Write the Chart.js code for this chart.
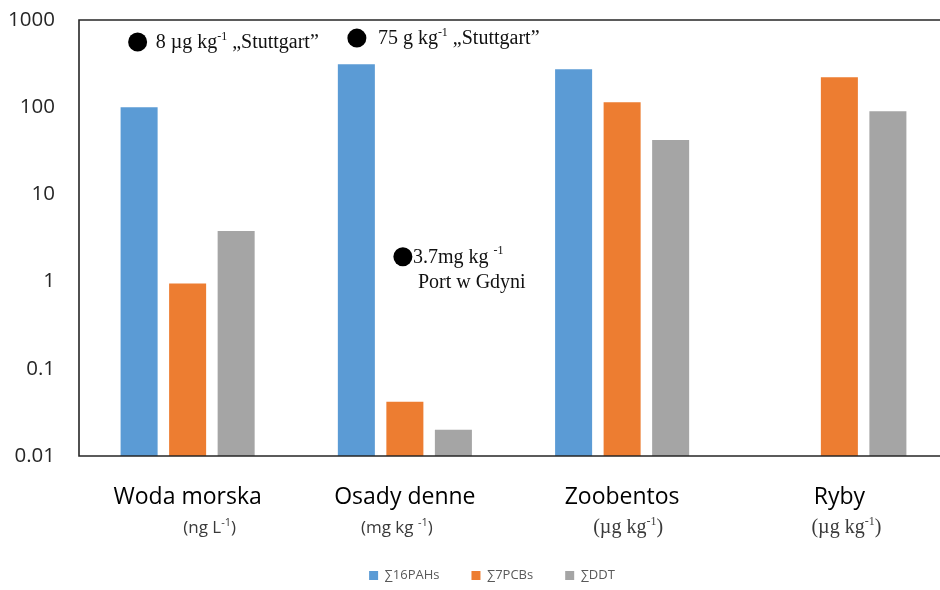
<!DOCTYPE html>
<html>
<head>
<meta charset="utf-8">
<script src="https://cdn.jsdelivr.net/npm/chart.js@4.4.1/dist/chart.umd.min.js"></script>
<style>
  html, body { margin: 0; padding: 0; background: #fff; overflow: hidden; width: 940px; height: 590px; }
  #wrap { position: relative; width: 948px; height: 590px; }
</style>
</head>
<body>
<div id="wrap"><canvas id="c" width="948" height="590"></canvas></div>
<script>
// Categories and their measurement units
const categories = ['Woda morska', 'Osady denne', 'Zoobentos', 'Ryby'];
const unitLabels = [
  [['(ng L', false], ['-1', true], [')', false]],
  [['(mg kg ', false], ['-1', true], [')', false]],
  [['(µg kg', false], ['-1', true], [')', false]],
  [['(µg kg', false], ['-1', true], [')', false]]
];

// Series values (log scale)
const pahValues = [100, 310, 272, null];
const pcbValues = [0.95, 0.042, 114, 220];
const ddtValues = [3.8, 0.02, 42, 90];

// Y axis tick labels (powers of ten)
const yTicks = [0.01, 0.1, 1, 10, 100, 1000];

// Reference notes: label text parts
const noteTexts = [
  [[['8 µg kg', false], ['-1', true], [' „Stuttgart”', false]]],
  [[['75 g kg', false], ['-1', true], [' „Stuttgart”', false]]],
  [[['3.7mg kg ', false], ['-1', true]], [[' Port w Gdyni', false]]]
];

const SERIF = '"Liberation Serif", "DejaVu Serif", serif';
const SANS = '"Open Sans", Lato, sans-serif';

// Draws a run of text pieces, some of them as superscripts
function richWidth(ctx, parts, size, family) {
  let w = 0;
  for (const [t, sup] of parts) {
    ctx.font = (sup ? Math.round(size * 0.62) : size) + 'px ' + family;
    w += ctx.measureText(t).width;
  }
  return w;
}
function drawRich(ctx, parts, x, y, size, family, color, align) {
  let cx = align === 'center' ? x - richWidth(ctx, parts, size, family) / 2 : x;
  ctx.fillStyle = color;
  ctx.textBaseline = 'middle';
  ctx.textAlign = 'left';
  for (const [t, sup] of parts) {
    const s = sup ? Math.round(size * 0.62) : size;
    ctx.font = s + 'px ' + family;
    ctx.fillText(t, cx, sup ? y - size * 0.33 : y);
    cx += ctx.measureText(t).width;
  }
}

// Plot frame: left, top and bottom lines
const framePlugin = {
  id: 'frame',
  afterLayout(chart) {
    // nudge the legend to sit slightly right of and below its default spot
    const lg = chart.legend;
    if (lg) { lg.left += 18; lg.right += 18; lg.top += 8; lg.bottom += 8; }
  },
  afterDatasetsDraw(chart) {
    const { ctx, chartArea: a } = chart;
    ctx.save();
    ctx.strokeStyle = '#262626';
    ctx.lineWidth = 1.6;
    ctx.beginPath();
    ctx.moveTo(a.right + 2, a.top);
    ctx.lineTo(a.left, a.top);
    ctx.lineTo(a.left, a.bottom);
    ctx.lineTo(a.right + 2, a.bottom);
    ctx.stroke();
    ctx.restore();
  }
};

// Unit captions below category names
const unitsPlugin = {
  id: 'units',
  afterDraw(chart) {
    const { ctx } = chart;
    const x = chart.scales.x;
    const shifts = [22, -8, 6, 7];
    ctx.save();
    unitLabels.forEach((parts, i) => {
      const px = x.getPixelForValue(i) + shifts[i];
      if (i < 2) drawRich(ctx, parts, px, 528, 17, SANS, '#3a3a3a', 'center');
      else drawRich(ctx, parts, px, 528, 20, SERIF, '#3a3a3a', 'center');
    });
    ctx.restore();
  }
};

// Black dot markers with their notes
const notesPlugin = {
  id: 'notes',
  afterDraw(chart) {
    const { ctx } = chart;
    const x = chart.scales.x, y = chart.scales.y;
    const anchors = [
      { cat: 0, dx: -50, v: 560, tx: 18 },
      { cat: 1, dx: -48, v: 620, tx: 21 },
      { cat: 1, dx: -2, v: 1.93, tx: 10 }
    ];
    ctx.save();
    anchors.forEach((a, i) => {
      const px = x.getPixelForValue(a.cat) + a.dx;
      const py = y.getPixelForValue(a.v);
      ctx.fillStyle = '#000';
      ctx.beginPath();
      ctx.arc(px, py, 9.5, 0, Math.PI * 2);
      ctx.fill();
      noteTexts[i].forEach((line, j) => {
        drawRich(ctx, line, px + a.tx, py + 1 + j * 25, 20, SERIF, '#111', 'left');
      });
    });
    ctx.restore();
  }
};

const barStyle = { barPercentage: 0.763, categoryPercentage: 0.67, borderWidth: 0 };

new Chart(document.getElementById('c'), {
  type: 'bar',
  data: {
    labels: categories,
    datasets: [
      Object.assign({ label: '∑16PAHs', data: pahValues, backgroundColor: '#5B9BD5' }, barStyle),
      Object.assign({ label: '∑7PCBs', data: pcbValues, backgroundColor: '#ED7D31' }, barStyle),
      Object.assign({ label: '∑DDT', data: ddtValues, backgroundColor: '#A5A5A5' }, barStyle)
    ]
  },
  options: {
    responsive: false,
    animation: false,
    layout: { padding: { top: 20, left: 0, right: 0, bottom: 6 } },
    plugins: {
      tooltip: { enabled: false },
      legend: {
        position: 'bottom',
        labels: {
          boxWidth: 9, boxHeight: 9, padding: 32,
          color: '#595959',
          font: { family: SANS, size: 13 }
        }
      }
    },
    scales: {
      x: {
        grid: { display: false, drawTicks: false },
        border: { display: false },
        ticks: { color: '#000', font: { family: SANS, size: 23 }, padding: 28 },
        afterFit(s) { s.height = 73; }
      },
      y: {
        type: 'logarithmic',
        min: 0.01,
        max: 1000,
        grid: { display: false, drawTicks: false },
        border: { display: false },
        afterBuildTicks(s) { s.ticks = yTicks.map(v => ({ value: v })); },
        ticks: {
          color: '#262626',
          font: { family: SANS, size: 20.5 },
          padding: 24,
          callback: v => String(v)
        },
        afterFit(s) { s.width = 79; s.paddingTop = 0; s.paddingBottom = 0; }
      }
    }
  },
  plugins: [framePlugin, unitsPlugin, notesPlugin]
});
</script>
</body>
</html>
